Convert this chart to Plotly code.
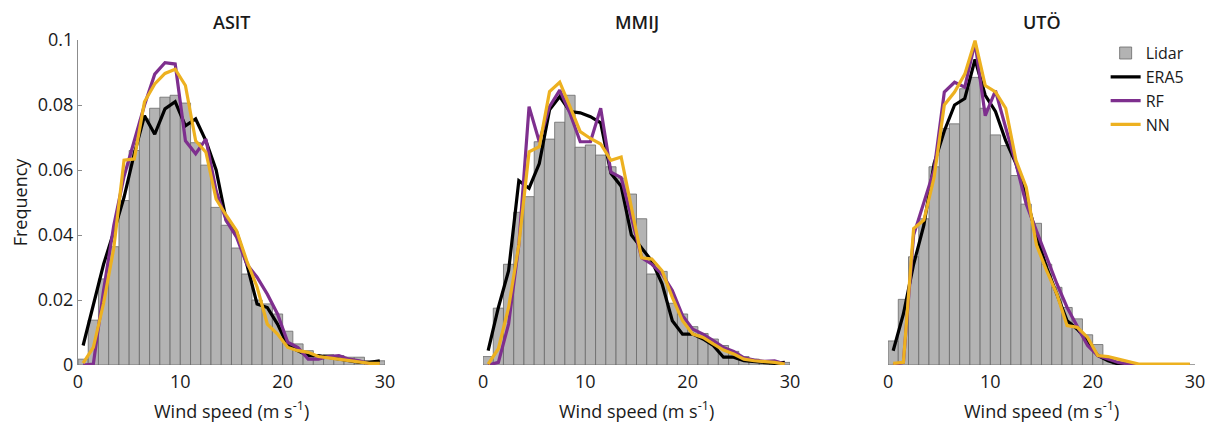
import plotly.graph_objects as go

# ---------------- data ----------------
speed_bins = [i + 0.5 for i in range(30)]  # bin centres (m/s), bins of 1 m/s from 0 to 30
x_ticks = [0, 10, 20, 30]
y_ticks = [0, 0.02, 0.04, 0.06, 0.08, 0.1]
y_tick_labels = ["0", "0.02", "0.04", "0.06", "0.08", "0.1"]
sites = ["ASIT", "MMIJ", "UTÖ"]
x_title = "Wind speed (m s<sup>-1</sup>)"

lidar_asit = [0.0018, 0.0138, 0.0265, 0.0364, 0.0506, 0.066, 0.0757, 0.079, 0.0824, 0.083,
              0.0806, 0.0684, 0.0615, 0.0485, 0.043, 0.036, 0.028, 0.020, 0.0188, 0.0157,
              0.0104, 0.0065, 0.0044, 0.0029, 0.0032, 0.0029, 0.0024, 0.0024, 0.0013, 0.0013]
era5_asit = [0.006, 0.019, 0.031, 0.041, 0.0516, 0.065, 0.0767, 0.071, 0.0788, 0.081,
             0.0736, 0.0757, 0.069, 0.060, 0.0444, 0.041, 0.031, 0.0188, 0.0177, 0.0126,
             0.006, 0.0044, 0.0029, 0.0029, 0.0024, 0.0018, 0.0013, 0.0008, 0.0008, 0.0013]
rf_asit = [0.0, 0.0003, 0.023, 0.043, 0.058, 0.069, 0.080, 0.0895, 0.093, 0.0926,
           0.069, 0.065, 0.0695, 0.0536, 0.0444, 0.0393, 0.031, 0.027, 0.0218, 0.0157,
           0.007, 0.0054, 0.0018, 0.0018, 0.0026, 0.0029, 0.0018, 0.0013, 0.0003, 0.0003]
nn_asit = [0.0006, 0.0054, 0.019, 0.036, 0.063, 0.0634, 0.081, 0.0865, 0.0897, 0.091,
           0.086, 0.069, 0.0655, 0.051, 0.046, 0.0413, 0.032, 0.024, 0.0126, 0.0095,
           0.0054, 0.0044, 0.0039, 0.0026, 0.0022, 0.0018, 0.0013, 0.0008, 0.0005, 0.0005]

lidar_mmij = [0.0026, 0.0175, 0.031, 0.047, 0.0518, 0.0687, 0.0695, 0.0747, 0.083, 0.067,
              0.0677, 0.0646, 0.061, 0.0575, 0.0526, 0.045, 0.028, 0.0288, 0.019, 0.0157,
              0.0118, 0.0097, 0.008, 0.006, 0.0042, 0.0026, 0.0018, 0.0013, 0.0011, 0.0008]
era5_mmij = [0.0044, 0.0177, 0.029, 0.0567, 0.0544, 0.062, 0.0785, 0.0826, 0.078, 0.0776,
             0.0764, 0.0745, 0.059, 0.055, 0.040, 0.036, 0.032, 0.025, 0.0136, 0.0095,
             0.0095, 0.008, 0.006, 0.0024, 0.0024, 0.0013, 0.001, 0.0008, 0.0005, 0.0008]
rf_mmij = [0.0, 0.0008, 0.0126, 0.037, 0.0795, 0.0687, 0.0795, 0.0846, 0.0774, 0.0687,
           0.0687, 0.079, 0.0593, 0.0577, 0.0454, 0.033, 0.031, 0.028, 0.0229, 0.0152,
           0.011, 0.0095, 0.0075, 0.0054, 0.0042, 0.0022, 0.0015, 0.0011, 0.0013, 0.0003]
nn_mmij = [0.0003, 0.005, 0.0177, 0.037, 0.0656, 0.0672, 0.0841, 0.087, 0.0795, 0.0718,
           0.0697, 0.068, 0.063, 0.064, 0.0485, 0.033, 0.0326, 0.029, 0.0208, 0.0136,
           0.0095, 0.0085, 0.0065, 0.0046, 0.0034, 0.0018, 0.0013, 0.0011, 0.0008, 0.0003]

lidar_uto = [0.0074, 0.0202, 0.0333, 0.045, 0.061, 0.0728, 0.0742, 0.085, 0.0885, 0.079,
             0.0708, 0.0675, 0.0583, 0.0495, 0.0436, 0.031, 0.0239, 0.0177, 0.0142, 0.0093,
             0.0063, 0.0018, 0.0006, 0.0003, 0.0002, 0.0, 0.0, 0.0, 0.0, 0.0]
era5_uto = [0.0044, 0.0157, 0.031, 0.043, 0.062, 0.072, 0.080, 0.082, 0.094, 0.083,
            0.078, 0.069, 0.062, 0.0516, 0.040, 0.030, 0.0218, 0.0136, 0.011, 0.0075,
            0.0029, 0.0013, 0.0003, 0.0, 0.0, 0.0, 0.0, 0.0, 0.0, 0.0]
rf_uto = [0.0, 0.0008, 0.040, 0.050, 0.060, 0.084, 0.087, 0.0855, 0.0993, 0.0767,
          0.0844, 0.073, 0.062, 0.0495, 0.0413, 0.033, 0.025, 0.0177, 0.0116, 0.006,
          0.0029, 0.0018, 0.0008, 0.0003, 0.0, 0.0, 0.0, 0.0, 0.0, 0.0]
nn_uto = [0.0005, 0.0008, 0.042, 0.0446, 0.0577, 0.080, 0.084, 0.0895, 0.0998, 0.086,
          0.084, 0.079, 0.063, 0.0547, 0.037, 0.029, 0.0218, 0.0121, 0.0116, 0.0085,
          0.0029, 0.0026, 0.0018, 0.0011, 0.0003, 0.0003, 0.0003, 0.0003, 0.0003, 0.0003]

panels = [
    (lidar_asit, era5_asit, rf_asit, nn_asit),
    (lidar_mmij, era5_mmij, rf_mmij, nn_mmij),
    (lidar_uto, era5_uto, rf_uto, nn_uto),
]

# ---------------- styling ----------------
FONT = "Open Sans"
TXT = "#1a1a1a"
BAR_FILL = "#b3b3b3"
BAR_EDGE = "#6a6a6a"
C_ERA5 = "#000000"
C_RF = "#7e2f8e"
C_NN = "#edb120"
LW = 3.2

domains = [[0.0, 0.2748], [0.3626, 0.6374], [0.7252, 1.0]]

fig = go.Figure()
for k, (lid, era, rf, nn) in enumerate(panels):
    xa = "x" if k == 0 else f"x{k+1}"
    ya = "y" if k == 0 else f"y{k+1}"
    show = k == 0
    fig.add_trace(go.Bar(x=speed_bins, y=lid, width=1, name="Lidar",
                         marker=dict(color=BAR_FILL, line=dict(color=BAR_EDGE, width=0.8)),
                         xaxis=xa, yaxis=ya, showlegend=show, legendrank=1))
    fig.add_trace(go.Scatter(x=speed_bins, y=era, mode="lines", name="ERA5",
                             line=dict(color=C_ERA5, width=LW),
                             xaxis=xa, yaxis=ya, showlegend=show, legendrank=2))
    fig.add_trace(go.Scatter(x=speed_bins, y=rf, mode="lines", name="RF",
                             line=dict(color=C_RF, width=LW),
                             xaxis=xa, yaxis=ya, showlegend=show, legendrank=3))
    fig.add_trace(go.Scatter(x=speed_bins, y=nn, mode="lines", name="NN",
                             line=dict(color=C_NN, width=LW),
                             xaxis=xa, yaxis=ya, showlegend=show, legendrank=4))

layout = dict(
    width=1198, height=415,
    margin=dict(l=70, r=11, t=32, b=58, autoexpand=False),
    paper_bgcolor="white", plot_bgcolor="white",
    font=dict(family=FONT, color=TXT, size=16),
    barmode="overlay",
    legend=dict(x=0.920, y=1.012, xanchor="left", yanchor="top",
                font=dict(family=FONT, size=16, color=TXT),
                bgcolor="rgba(0,0,0,0)", itemwidth=30, tracegroupgap=0),
)

for k in range(3):
    xkey = "xaxis" if k == 0 else f"xaxis{k+1}"
    ykey = "yaxis" if k == 0 else f"yaxis{k+1}"
    layout[xkey] = dict(
        domain=domains[k], range=[0, 30], tickvals=x_ticks,
        showline=False, ticks="", showgrid=False, zeroline=False, automargin=False,
        tickfont=dict(size=18, color=TXT), ticklabelstandoff=4,
        anchor="y" if k == 0 else f"y{k+1}",
    )
    if k == 0:
        layout[ykey] = dict(
            domain=[0, 1], range=[0, 0.1], tickvals=y_ticks, ticktext=y_tick_labels,
            showline=True, linecolor="#8c8c8c", linewidth=1,
            ticks="inside", ticklen=4, tickcolor="#8c8c8c",
            showgrid=False, zeroline=False, automargin=False,
            tickfont=dict(size=18, color=TXT), anchor="x",
            title=dict(text="Frequency", font=dict(size=18, color=TXT), standoff=8),
        )
    else:
        layout[ykey] = dict(domain=[0, 1], range=[0, 0.1], visible=False,
                            anchor=f"x{k+1}", showgrid=False, zeroline=False)

fig.update_layout(**layout)

for k, name in enumerate(sites):
    cx = (domains[k][0] + domains[k][1]) / 2
    fig.add_annotation(text=name, xref="paper", yref="paper", x=cx, y=1,
                       xanchor="center", yanchor="bottom", yshift=4, showarrow=False,
                       font=dict(family=FONT, size=18, color=TXT, weight=600))
    fig.add_annotation(text=x_title, xref="paper", yref="paper", x=cx, y=0,
                       xanchor="center", yanchor="top", yshift=-30, showarrow=False,
                       font=dict(family=FONT, size=18, color=TXT))

fig.write_html("out.html")
